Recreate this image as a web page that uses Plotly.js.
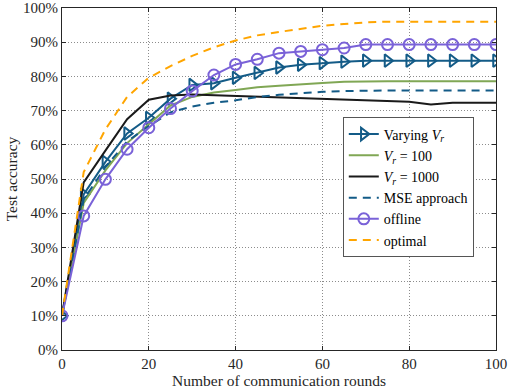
<!DOCTYPE html>
<html>
<head>
<meta charset="utf-8">
<script src="https://cdn.plot.ly/plotly-3.0.1.min.js"></script>
<style>
  body { margin: 0; background: #fff; }
  #plot { width: 508px; height: 390px; }
</style>
</head>
<body>
<div id="plot"></div>
<script>
// communication rounds (every 5)
const rounds = [0, 5, 10, 15, 20, 25, 30, 35, 40, 45, 50, 55, 60, 65, 70, 75, 80, 85, 90, 95, 100];

// test accuracy in %
const varyingVr = [10, 45.5, 55, 63.3, 67.9, 73.5, 77.5, 78, 79.6, 81, 82.6, 83.4, 83.9, 84.3, 84.6, 84.6, 84.6, 84.6, 84.6, 84.6, 84.6];
const vr100     = [10, 43, 52.5, 60.5, 66, 71.5, 74, 75.3, 76, 76.8, 77.3, 77.8, 78.1, 78.4, 78.6, 78.6, 78.6, 78.6, 78.6, 78.6, 78.6];
const vr1000    = [10, 49, 58.3, 67.5, 73.2, 74.4, 74.7, 74.5, 74.2, 74, 73.8, 73.6, 73.4, 73.2, 73, 72.8, 72.6, 71.8, 72.3, 72.3, 72.3];
const mse       = [10, 44, 53.5, 61, 65.5, 69.5, 71.2, 72.3, 73, 74, 74.6, 75.1, 75.5, 75.7, 75.9, 75.9, 75.9, 75.9, 75.9, 75.9, 75.9];
const offline   = [10, 39.2, 49.9, 58.7, 65, 70.6, 75.7, 80.4, 83.5, 85, 86.8, 87.3, 87.8, 88.3, 89.3, 89.3, 89.3, 89.3, 89.3, 89.3, 89.3];
const optimal   = [10, 52, 64.5, 74, 79.6, 83, 86, 88.5, 90.5, 92, 93, 94, 94.8, 95.3, 95.8, 96, 96, 96, 96, 96, 96];

// tick positions
const xTicks = [0, 20, 40, 60, 80, 100];
const yTicks = [0, 10, 20, 30, 40, 50, 60, 70, 80, 90, 100];
const yTickText = yTicks.map(v => v + '%');

const blue = '#135b87';
const green = '#80a755';
const purple = '#7a62d8';
const orange = '#ffa500';

const traces = [
  { x: rounds, y: varyingVr, mode: 'lines+markers', name: 'Varying <i>V<sub>r</sub></i>',
    line: { color: blue, width: 2 },
    marker: { symbol: 'triangle-right-open', size: 11, color: blue, line: { width: 2, color: blue } } },
  { x: rounds, y: vr100, mode: 'lines', name: '<i>V<sub>r</sub></i> = 100',
    line: { color: green, width: 2 } },
  { x: rounds, y: vr1000, mode: 'lines', name: '<i>V<sub>r</sub></i> = 1000',
    line: { color: '#1a1a1a', width: 2 } },
  { x: rounds, y: mse, mode: 'lines', name: 'MSE approach',
    line: { color: blue, width: 2, dash: '8px,6px' } },
  { x: rounds, y: offline, mode: 'lines+markers', name: 'offline',
    line: { color: purple, width: 2 },
    marker: { symbol: 'circle-open', size: 11, color: purple, line: { width: 2, color: purple } } },
  { x: rounds, y: optimal, mode: 'lines', name: 'optimal',
    line: { color: orange, width: 2, dash: '8px,6px' } }
];

const axisCommon = {
  showline: true, mirror: 'ticks', linecolor: '#262626', linewidth: 1,
  ticks: 'inside', ticklen: 4, tickcolor: '#262626',
  showgrid: true, gridcolor: '#8c8c8c', griddash: '1px,2px', gridwidth: 1,
  zeroline: false, ticklabeloverflow: 'allow',
  tickfont: { family: 'Liberation Serif, serif', size: 15, color: '#262626' }
};

const layout = {
  width: 508, height: 390,
  margin: { l: 62, r: 12, t: 8, b: 40 },
  paper_bgcolor: '#fff', plot_bgcolor: '#fff',
  font: { family: 'Liberation Serif, serif', color: '#262626' },
  xaxis: Object.assign({}, axisCommon, {
    range: [0, 100], tickmode: 'array', tickvals: xTicks,
    title: { text: 'Number of communication rounds', font: { size: 15.5 }, standoff: 3 }
  }),
  yaxis: Object.assign({}, axisCommon, {
    range: [0, 100], tickmode: 'array', tickvals: yTicks, ticktext: yTickText,
    title: { text: 'Test accuracy', font: { size: 15.5 }, standoff: 1 }
  }),
  showlegend: true,
  legend: {
    x: 0.647, y: 0.68, xanchor: 'left', yanchor: 'top',
    bgcolor: '#fff', bordercolor: '#555', borderwidth: 1,
    font: { family: 'Liberation Serif, serif', size: 14, color: '#000' },
    tracegroupgap: 0, itemwidth: 30
  }
};

Plotly.newPlot('plot', traces, layout, { staticPlot: true });
</script>
</body>
</html>
